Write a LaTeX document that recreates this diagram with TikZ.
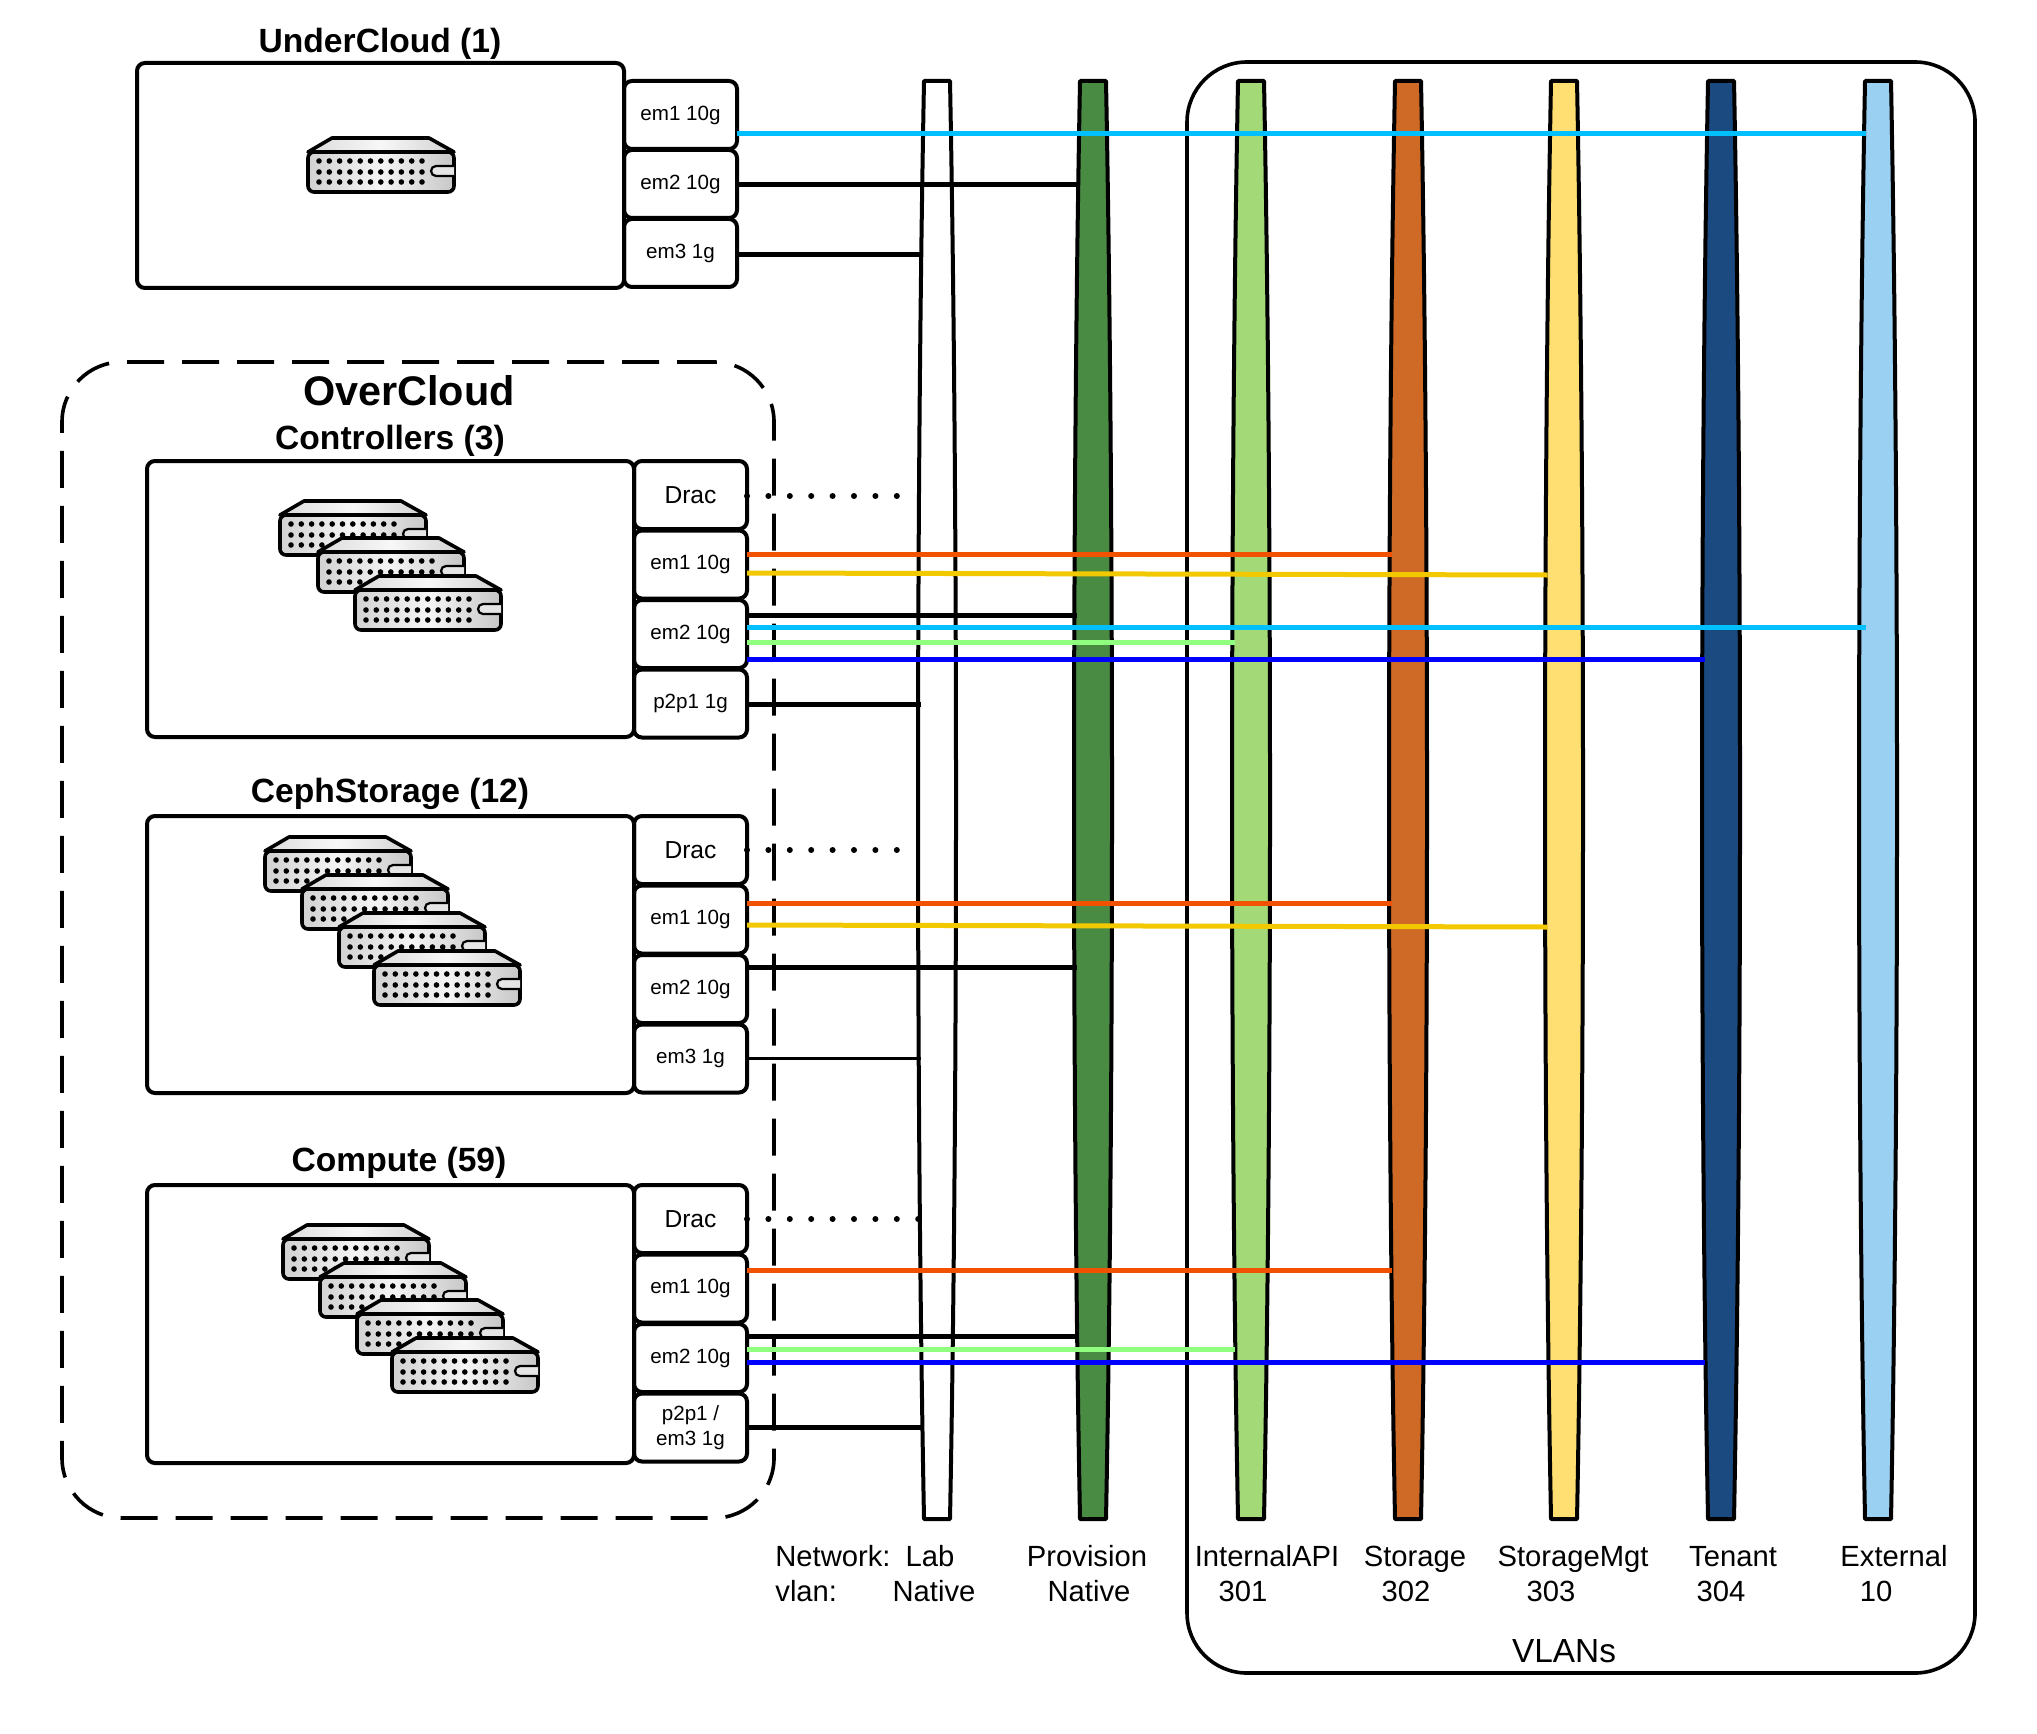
\documentclass[tikz,border=0pt]{standalone}
\usepackage{fontspec}
\setmainfont{Liberation Sans}
\usetikzlibrary{positioning}
\definecolor{netprov}{HTML}{4A8B44}
\definecolor{netapi}{HTML}{A3D977}
\definecolor{netstorage}{HTML}{CF6A26}
\definecolor{netstormgt}{HTML}{FFDF72}
\definecolor{nettenant}{HTML}{1A4A80}
\definecolor{netexternal}{HTML}{9AD1F3}
\definecolor{wirecyan}{HTML}{00BFFF}
\definecolor{wireorange}{HTML}{F25100}
\definecolor{wireyellow}{HTML}{F2C800}
\definecolor{wirelime}{HTML}{90FF80}
\definecolor{wireblue}{HTML}{0000FF}
\tikzset{
  servericon/.pic={
    \draw[line width=1.8pt, line join=round, left color=black!14, right color=black!18, middle color=black!3]
      (1,15) -- (25,1) -- (122,1) -- (147,15) -- cycle;
    \draw[line width=1.8pt, rounded corners=3pt, left color=black!18, right color=black!22, middle color=black!4]
      (1,15) -- (1,55) -- (147,55) -- (147,15) -- cycle;
    \draw[line width=2.2pt] (1,15) -- (147,15);
    \foreach \dy in {24,35,45}{
      \foreach \dx in {0,...,10}{\fill ({12+\dx*10.3},\dy) circle[radius=2.8];}
    }
    \draw[line width=1.1pt, fill=black!10, rounded corners=2.5pt] (147,29) -- (124,29) -- (124,39) -- (147,39);
  },
}
\begin{document}
\begin{tikzpicture}[
  x=0.5pt, y=-0.5pt,
  hostbox/.style={draw, line width=2pt, rounded corners=4pt, minimum width=243.5pt, anchor=north west, outer sep=0pt, inner sep=0pt},
  portbox/.style={draw, line width=2pt, rounded corners=4pt, minimum width=56.5pt, minimum height=34pt, outer sep=0pt, inner sep=0pt, align=center, font=\fontsize{10.3}{12.5}\selectfont},
  dracbox/.style={portbox, font=\fontsize{12.3}{14}\selectfont},
  titlelabel/.style={font=\fontsize{16.8}{20}\selectfont\bfseries, inner sep=0pt},
  netlabel/.style={font=\fontsize{14.6}{17}\selectfont, inner sep=0pt},
  netspan/.style={minimum width=16.5pt, minimum height=719.5pt, inner sep=0pt, outer sep=0pt},
  wire/.style={line width=2.5pt},
  drop/.style={dash pattern=on 0pt off 10.7pt, line cap=round, line width=3pt},
]
\useasboundingbox (0,0) rectangle (2037,1733);

% Groups
\node[draw, line width=1.8pt, rounded corners=30pt, minimum width=394pt, minimum height=805.5pt, anchor=north west, outer sep=0pt] (vlans) at (1187,62) {};
\node[draw, line width=1.8pt, rounded corners=30pt, dash pattern=on 18.5pt off 9pt, minimum width=356pt, minimum height=578pt, anchor=north west, outer sep=0pt] (overcloud) at (62,362) {};

% Networks
\foreach \netname/\cx/\netcol in {netlab/937/white, netpro/1093/netprov, netint/1251/netapi, netsto/1408/netstorage, netsmg/1564/netstormgt, netten/1721/nettenant, netext/1878/netexternal}{
  \draw[line width=2pt, line join=round, fill=\netcol]
    ({\cx-13},81) .. controls ({\cx-21},500) and ({\cx-21},1100) .. ({\cx-13},1519)
    -- ({\cx+13},1519) .. controls ({\cx+21},1100) and ({\cx+21},500) .. ({\cx+13},81) -- cycle;
  \node[netspan] (\netname) at (\cx,800) {};
}
\coordinate (netextin) at ([xshift=2.2pt]netext.west);

% UnderCloud
\node[hostbox, minimum height=112.5pt] (under) at (137,63) {};
\node[portbox, anchor=north west] (underem1) at ([yshift=-9pt]under.north east) {em1 10g};
\node[portbox, below=0.5pt of underem1] (underem2) {em2 10g};
\node[portbox, below=0.5pt of underem2] (underem3) {em3 1g};
\node[titlelabel] (undertitle) at (380,43.5) {UnderCloud (1)};
\pic at (307,137) {servericon};

% OverCloud
\node[font=\fontsize{20.7}{24}\selectfont\bfseries, inner sep=0pt] (overtitle) at (409,391) {OverCloud};

% Controllers
\node[hostbox, minimum height=138pt] (ctrl) at (147,461) {};
\node[dracbox, anchor=north west] (ctrldrac) at (ctrl.north east) {Drac};
\node[portbox, below=0.75pt of ctrldrac] (ctrlem1) {em1 10g};
\node[portbox, below=0.75pt of ctrlem1] (ctrlem2) {em2 10g};
\node[portbox, below=0.75pt of ctrlem2] (ctrlp2p) {p2p1 1g};
\node[titlelabel] (ctrltitle) at (390,440.5) {Controllers (3)};
\foreach \sx/\sy in {279/500, 317/537, 354/575}{\pic at (\sx,\sy) {servericon};}

% CephStorage
\node[hostbox, minimum height=138.5pt] (ceph) at (147,816) {};
\node[dracbox, anchor=north west] (cephdrac) at (ceph.north east) {Drac};
\node[portbox, below=0.75pt of cephdrac] (cephem1) {em1 10g};
\node[portbox, below=0.75pt of cephem1] (cephem2) {em2 10g};
\node[portbox, below=0.75pt of cephem2] (cephem3) {em3 1g};
\node[titlelabel] (cephtitle) at (390,793.5) {CephStorage (12)};
\foreach \sx/\sy in {264/836, 301/874, 338/912, 373/950}{\pic at (\sx,\sy) {servericon};}

% Compute
\node[hostbox, minimum height=139pt] (comp) at (147,1185) {};
\node[dracbox, anchor=north west] (compdrac) at (comp.north east) {Drac};
\node[portbox, below=0.75pt of compdrac] (compem1) {em1 10g};
\node[portbox, below=0.75pt of compem1] (compem2) {em2 10g};
\node[portbox, below=0.75pt of compem2] (compp2p) {p2p1 /\\em3 1g};
\node[titlelabel] (comptitle) at (399,1162.5) {Compute (59)};
\foreach \sx/\sy in {282/1224, 319/1262, 356/1299, 391/1337}{\pic at (\sx,\sy) {servericon};}

% Links to the networks
\foreach \fromport/\tonet/\yy/\wirecol in {
  underem1/netextin/134/wirecyan, underem2/netpro/185/black, underem3/netlab/255/black,
  ctrlem1/netsto/554/wireorange, ctrlem2/netpro/615/black, ctrlem2/netextin/627/wirecyan,
  ctrlem2/netint/642/wirelime, ctrlem2/netten/659/wireblue, ctrlp2p/netlab/704/black,
  cephem1/netsto/903/wireorange, cephem2/netpro/967/black,
  compem1/netsto/1270/wireorange, compem2/netpro/1336/black, compem2/netint/1349/wirelime,
  compem2/netten/1362/wireblue, compp2p/netlab/1427/black}{
  \draw[wire, \wirecol] (\fromport.east |- 0,\yy) -- (\tonet.west |- 0,\yy);
}
\draw[wire, wireyellow] (ctrlem1.east |- 0,573) -- (netsmg.west |- 0,575);
\draw[wire, wireyellow] (cephem1.east |- 0,925) -- (netsmg.west |- 0,927);
\draw[line width=1.5pt] (cephem3.east |- 0,1058) -- (netlab.west |- 0,1058);

% Drac ends stop short of the lab network
\coordinate (ctrlend) at (898,496);
\coordinate (cephend) at (898,850);
\coordinate (compend) at (919,1219);
\draw[drop] (ctrldrac.east |- ctrlend) -- (ctrlend);
\draw[drop] (cephdrac.east |- cephend) -- (cephend);
\draw[drop] (compdrac.east |- compend) -- (compend);

% Labels under the networks
\node[netlabel, anchor=west] (rownet) at (775,1556) {Network:};
\node[netlabel, anchor=west] (rowvlan) at (775,1591) {vlan:};
\foreach \lname/\lx/\ltext in {lablab/930/Lab, lapro/1087/Provision, laint/1267/InternalAPI, lasto/1415/Storage, lasmg/1573/StorageMgt, laten/1733/Tenant, laext/1894/External}{
  \node[netlabel] (\lname) at (\lx,1560) {\strut\ltext};
}
\foreach \lname/\lx/\ltext in {vilab/934/Native, vipro/1089/Native, viint/1243/301, visto/1406/302, vismg/1551/303, viten/1721/304, viext/1876/10}{
  \node[netlabel] (\lname) at (\lx,1595) {\strut\ltext};
}
\node[font=\fontsize{16.7}{20}\selectfont, inner sep=0pt] (vlanstitle) at (1564,1651) {VLANs};
\end{tikzpicture}
\end{document}
